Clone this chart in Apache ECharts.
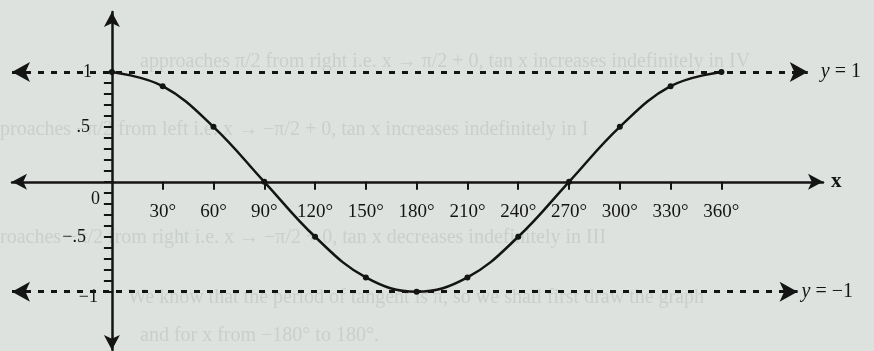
<!DOCTYPE html>
<html>
<head>
<meta charset="utf-8">
<script src="https://cdn.jsdelivr.net/npm/echarts@6/dist/echarts.min.js"></script>
<style>
  html, body { margin: 0; padding: 0; background: #dde2de; }
  #chart { width: 874px; height: 351px; }
</style>
</head>
<body>
<div id="chart"></div>
<script>
// y = cos x sampled every 30 degrees over one period
const angles = [0, 30, 60, 90, 120, 150, 180, 210, 240, 270, 300, 330, 360];
const cosValues = [1, 0.87, 0.5, 0, -0.5, -0.87, -1, -0.87, -0.5, 0, 0.5, 0.87, 1];

// axis ticks and labels
const xTickValues = [30, 60, 90, 120, 150, 180, 210, 240, 270, 300, 330, 360];
const yLabelValues = [-1, -0.5, 0, 0.5, 1];
const yLabelTexts = ['−1', '−.5', '0', '.5', '1'];
const yTickValues = [-1, -0.9, -0.8, -0.7, -0.6, -0.5, -0.4, -0.3, -0.2, -0.1, 0,
                     0.1, 0.2, 0.3, 0.4, 0.5, 0.6, 0.7, 0.8, 0.9, 1];

// bounding lines y = 1 and y = -1 (start / end angle of each dotted line)
const boundLevels = [1, -1];
const boundStart = [-59, -59];
const boundEnd = [411, 405];
const boundNumbers = ['1', '−1'];
const boundLabelGap = [13, 4];

// faint text showing through from the facing page
const backText = [
  'approaches \u03C0/2 from right i.e. x \u2192 \u03C0/2 + 0, tan x increases indefinitely in IV',
  'pproaches \u2212\u03C0/2 from left i.e. x \u2192 \u2212\u03C0/2 + 0, tan x increases indefinitely in I',
  'proaches \u2212\u03C0/2 from right i.e. x \u2192 \u2212\u03C0/2 + 0, tan x decreases indefinitely in III',
  'We know that the period of tangent is \u03C0, so we shall first draw the graph',
  'and for x from \u2212180\u00B0 to 180\u00B0.'
];
const backTextX = [140, -10, -10, 128, 140];
const backTextY = [52, 120, 228, 288, 326];

const serif = '"Liberation Serif", "DejaVu Serif", serif';
const ink = '#141414';

// axis ranges; the axes cross at (0, 0)
const xMin = -59, xMax = 420;
const yMin = -1.53, yMax = 1.545;
const gridBox = { left: 12, right: 51, top: 12, bottom: 1 };

const yRich = {
  m1: { padding: [12, 2, 0, 0] },
  m5: { padding: [0, 14, 0, 0] },
  z:  { padding: [34, 0, 0, 0] },
  p5: { padding: [0, 10, 0, 0] },
  p1: { padding: [0, 8, 0, 0] }
};
const yRichKey = ['m1', 'm5', 'z', 'p5', 'p1'];
Object.keys(yRich).forEach(k => {
  Object.assign(yRich[k], { fontFamily: serif, fontSize: 18, color: ink });
});

const W = 874, H = 351;
const plotW = W - gridBox.left - gridBox.right;
const plotH = H - gridBox.top - gridBox.bottom;
// shift the bottom / left axes inward so they pass through the origin
const xAxisOffset = -plotH * (0 - yMin) / (yMax - yMin);
const yAxisOffset = -plotW * (0 - xMin) / (xMax - xMin);

const chart = echarts.init(document.getElementById('chart'));
chart.setOption({
  backgroundColor: '#dde2de',
  animation: false,
  graphic: backText.map((t, i) => ({
    type: 'text',
    left: backTextX[i],
    top: backTextY[i],
    silent: true,
    z: -10,
    style: {
      text: t,
      font: '20px ' + serif,
      fill: '#cacfcb'
    }
  })),
  grid: Object.assign({ outerBoundsMode: 'none', containLabel: false }, gridBox),
  xAxis: {
    type: 'value',
    min: xMin,
    max: xMax,
    position: 'bottom',
    offset: xAxisOffset,
    splitLine: { show: false },
    name: 'x',
    nameLocation: 'end',
    nameGap: 8,
    nameTextStyle: { fontFamily: serif, fontSize: 21, fontWeight: 'bold', color: ink },
    axisLine: {
      onZero: false,
      symbol: ['arrow', 'arrow'],
      symbolSize: [12, 15],
      lineStyle: { color: ink, width: 2.5 }
    },
    axisTick: {
      customValues: xTickValues,
      length: 8,
      lineStyle: { color: ink, width: 2 }
    },
    axisLabel: {
      customValues: xTickValues,
      margin: 21,
      formatter: v => v + '°',
      fontFamily: serif,
      fontSize: 19,
      color: ink
    }
  },
  yAxis: {
    type: 'value',
    min: yMin,
    max: yMax,
    position: 'left',
    offset: yAxisOffset,
    splitLine: { show: false },
    axisLine: {
      onZero: false,
      symbol: ['arrow', 'arrow'],
      symbolSize: [12, 15],
      lineStyle: { color: ink, width: 2.5 }
    },
    axisTick: {
      customValues: yTickValues,
      length: 8,
      lineStyle: { color: ink, width: 2 }
    },
    axisLabel: {
      customValues: yLabelValues,
      margin: 12,
      formatter: v => {
        const i = yLabelValues.findIndex(u => Math.abs(u - v) < 1e-6);
        return i < 0 ? '' : '{' + yRichKey[i] + '|' + yLabelTexts[i] + '}';
      },
      rich: yRich
    }
  },
  series: [{
    type: 'line',
    data: angles.map((a, i) => [a, cosValues[i]]),
    smooth: 0.4,
    symbol: 'circle',
    symbolSize: 6,
    itemStyle: { color: ink },
    lineStyle: { color: ink, width: 2.5 },
    z: 5,
    markLine: {
      silent: true,
      symbol: ['arrow', 'arrow'],
      symbolSize: [15, 18],
      lineStyle: { color: ink, width: 3, type: [6, 7] },
      label: {
        show: true,
        position: 'end',
        fontFamily: serif,
        fontSize: 20,
        color: ink,
        formatter: p => '{i|y} = ' + p.data.txt,
        rich: { i: { fontFamily: serif, fontStyle: 'italic', fontSize: 20, color: ink } }
      },
      data: boundLevels.map((lv, i) => [
        { coord: [boundStart[i], lv], txt: boundNumbers[i], label: { distance: boundLabelGap[i] } },
        { coord: [boundEnd[i], lv] }
      ])
    }
  }]
});
</script>
</body>
</html>
